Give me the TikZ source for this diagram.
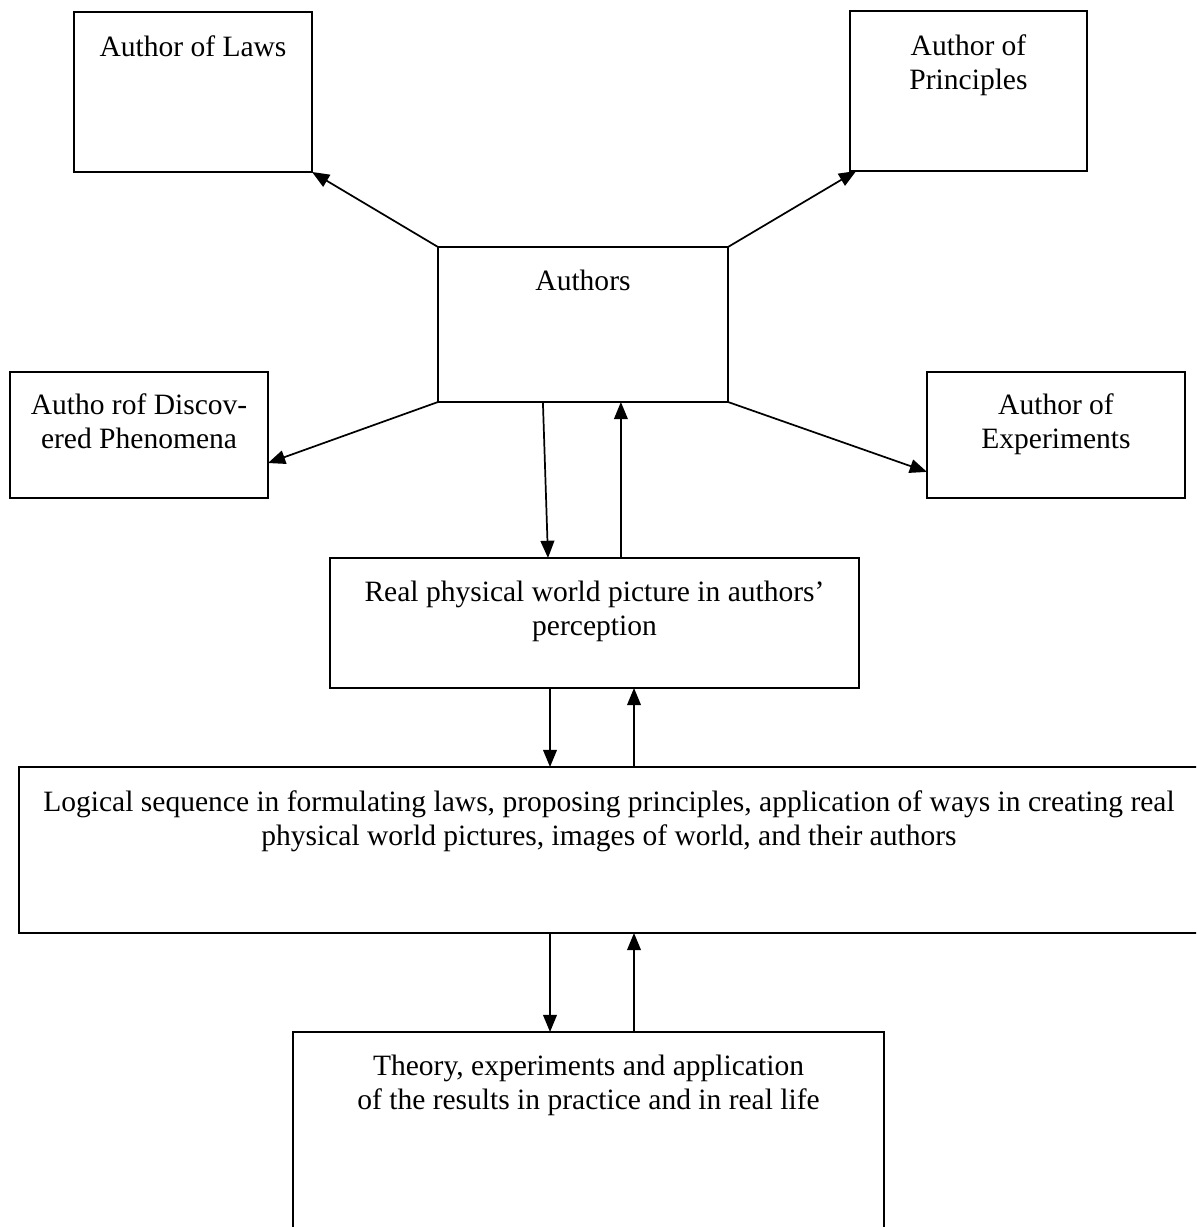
\documentclass[tikz,border=0pt]{standalone}
\usepackage{fontspec}
\setmainfont{Liberation Serif}
\usetikzlibrary{arrows.meta,positioning}
\def\pu{0.4065pt}

\begin{document}
\begin{tikzpicture}[x=\pu,y=-\pu,
    box/.style={draw,line width=0.8pt,inner sep=0pt,outer sep=0pt},
    txt/.style={align=center,inner sep=0pt,font=\fontsize{12pt}{13.8pt}\selectfont},
    arr/.style={line width=0.7pt,-{Triangle[length=7pt,width=5.6pt]}}]
    \useasboundingbox (0,0) rectangle (1196,1227);
    \clip (0,0) rectangle (1196,1227);
    % boxes
    \node[box,minimum width=238*\pu,minimum height=160*\pu] (laws) at (193,92) {};
    \node[box,minimum width=237*\pu,minimum height=160*\pu] (princ) at (968.5,91) {};
    \node[box,minimum width=290*\pu,minimum height=155*\pu] (authors) at (583,324.5) {};
    \node[box,minimum width=258*\pu,minimum height=126*\pu] (disc) at (139,435) {};
    \node[box,minimum width=258*\pu,minimum height=126*\pu] (exper) at (1056,435) {};
    \node[box,minimum width=529*\pu,minimum height=130*\pu] (real) at (594.5,623) {};
    \node[box,minimum width=1180*\pu,minimum height=166*\pu] (logic) at (609,850) {};
    \node[box,minimum width=591*\pu,minimum height=210*\pu] (theory) at (588.5,1137) {};
    % texts
    \node[txt,below=9.35pt of laws.north] (lawsT) {Author of Laws};
    \node[txt,below=9.35pt of princ.north] (princT) {Author of\\Principles};
    \node[txt,below=9.35pt of authors.north] (authorsT) {Authors};
    \node[txt,below=8.5pt of disc.north] (discT) {Autho rof Discov-\\ered Phenomena};
    \node[txt,below=8.5pt of exper.north] (experT) {Author of\\Experiments};
    \node[txt,below=9.35pt of real.north] (realT) {Real physical world picture in authors'\\perception};
    \node[txt,below=9.35pt of logic.north] (logicT) {Logical sequence in formulating laws, proposing principles, application of ways in creating real\\physical world pictures, images of world, and their authors};
    \node[txt,below=9.35pt of theory.north] (theoryT) {Theory, experiments and application\\of the results in practice and in real life};
    % arrows
    \draw[arr] (authors.north west) -- (laws.south east);
    \draw[arr] (authors.north east) -- ([xshift=2.5pt]princ.south west);
    \draw[arr] (authors.south west) -- ([yshift=-11.4pt]disc.east);
    \draw[arr] (authors.south east) -- ([yshift=-15pt]exper.east -| exper.west);
    \draw[arr] ([xshift=-16.3pt]authors.south) -- ([xshift=-18.9pt]real.north);
    \draw[arr] ([xshift=10.8pt]real.north) -- ([xshift=15.4pt]authors.south);
    \coordinate (dn) at (550,0);
    \coordinate (up) at (634,0);
    \foreach \a/\b in {real/logic,logic/theory}
    {
    \draw[arr] (dn |- \a.south) -- (dn |- \b.north);
    \draw[arr] (up |- \b.north) -- (up |- \a.south);
    }
\end{tikzpicture}
\end{document}
